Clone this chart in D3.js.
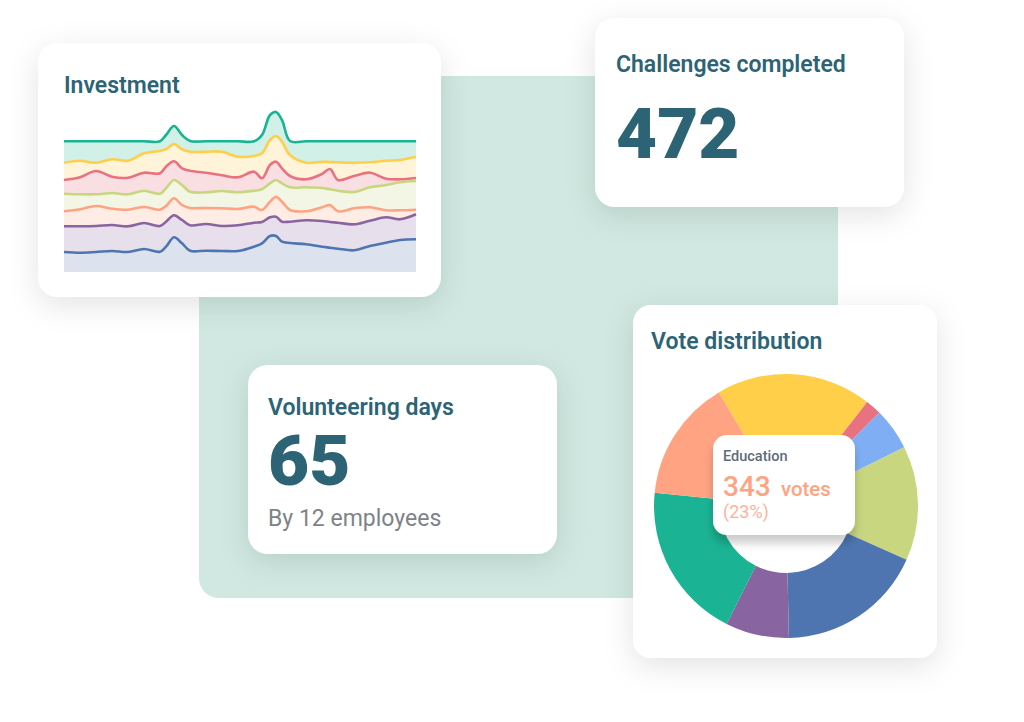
<!DOCTYPE html>
<html><head><meta charset="utf-8">
<script src="https://cdn.jsdelivr.net/npm/d3@7/dist/d3.min.js"></script>
<style>html,body{margin:0;padding:0;background:#fff}svg{display:block}text{font-family:Roboto,sans-serif}</style>
</head><body><svg id="c" width="1024" height="722"></svg>
<script>
const days=[0,16,32,48,64,80,96,102,110,118,126,142,158,174,190,198,206,212,218,226,242,258,266,274,290,306,322,336,352];
const tealLine=[130.7,130.7,130.7,130.7,130.7,130.7,130.7,137,146,137,131,130.7,130.7,130.7,130.7,137,157,160,152,131,130.7,130.7,130.7,130.7,130.7,130.7,130.7,130.7,130.7];
const yellowLine=[109.3,111.3,109.3,112.7,111.3,118.7,121,122.7,128,122.7,120.3,120.3,120.3,115.3,116,118.7,132,136,130.3,117,109.3,110.3,110,109.7,109.3,109.7,111.3,112,115.3];
const redLine=[92,94.7,101,95.3,94.3,99.3,98.7,105.3,110.7,103.7,101.3,99.3,96.7,94.7,100.3,93.7,107,110.3,103.7,96,92.7,98,103,92,96,99.3,93.3,92.7,94];
const greenLine=[78.3,77.7,77.7,79,77.7,81.3,78.3,83.7,92,87,80.3,79.7,81,79.7,81.3,82.7,88.7,92,88.7,84.7,84.7,84,82.7,81.3,80,84.7,87,89.7,91];
const orangeLine=[60.7,62.7,66,63.3,62.3,65,62.3,66,73.7,67,64,64,63.7,63,65.3,62,70.3,75.3,70.3,62,60.7,64.7,67,60.7,63.7,64.7,61.7,61.7,62.3];
const purpleLine=[45.7,45.7,46,47,45.7,49,46,50.3,56.7,52,46.7,48,46,46.7,49.3,50,54.7,55.3,50.3,50.3,51.7,51,50,49.3,47.7,51.3,54.7,52.7,57.7];
const blueLine=[20,19.3,20,21,20,23,20.3,25.3,34.7,28.7,21.3,21.3,21,21,25.3,28.7,36,36,30.3,29,27.7,25.3,24.3,23.3,21.7,26,29.3,32,32.7];
const streamSeries=[tealLine,yellowLine,redLine,greenLine,orangeLine,purpleLine,blueLine];
const streamColors=["#1AB394","#FFCF4A","#E8727F","#C8D67F","#FFA382","#8865A0","#4E75B0"];
const streamFills=["#D0F0E8","#FFF3D9","#FADFE2","#F3F6E5","#FFECE5","#E7E0EC","#DCE3EE"];
const voteCategories=["Environment","Health","Arts","Community","Science","Animals","Poverty","Education"];
const voteValues=[284,29,77,209,268,116,286,222];
const voteColors=["#FFCF4A","#E8727F","#7FAEF5","#C8D67F","#4E75B0","#8865A0","#1AB394","#FFA382"];

const svg=d3.select("#c");
const defs=svg.append("defs");
function shadow(id,dy,blur,op,col){
  const f=defs.append("filter").attr("id",id).attr("x","-30%").attr("y","-30%").attr("width","160%").attr("height","170%");
  f.append("feDropShadow").attr("dx",0).attr("dy",dy).attr("stdDeviation",blur).attr("flood-color",col||"#000").attr("flood-opacity",op);
}
shadow("card",8,15,0.11);
shadow("tip",8,4,0.2);
const ink="#2D6475";

// backdrop
svg.append("path").attr("fill","#D0E8E1").attr("d","M199,76H838V598H219A20,20 0 0 1 199,578Z");

function card(x,y,w,h,r){svg.append("rect").attr("x",x).attr("y",y).attr("width",w).attr("height",h).attr("rx",r).attr("fill","#fff").attr("filter","url(#card)");}
function label(x,y,t,size,weight,fill,op){return svg.append("text").attr("x",x).attr("y",y).attr("font-size",size).attr("font-weight",weight).attr("fill",fill).attr("fill-opacity",op==null?1:op).text(t);}

// Investment
card(38,43,403,254,20);
label(64,92.7,"Investment",23,600,ink);
const x=d3.scaleLinear().domain([0,352]).range([64,416]);
const y=d3.scaleLinear().domain([0,160]).range([272,112]);
const base=days.map(()=>0);
const curve=d3.curveCatmullRom.alpha(0.5);
const g=svg.append("g");
streamSeries.forEach((s,i)=>{
  const low=streamSeries[i+1]||base;
  const area=d3.area().x((d,j)=>x(days[j])).y0((d,j)=>y(low[j])).y1(d=>y(d)).curve(curve);
  g.append("path").attr("d",area(s)).attr("fill",streamFills[i]);
});
streamSeries.forEach((s,i)=>{
  const line=d3.line().x((d,j)=>x(days[j])).y(d=>y(d)).curve(curve);
  g.append("path").attr("d",line(s)).attr("fill","none").attr("stroke",streamColors[i]).attr("stroke-width",2.6);
});

// Challenges
card(595,18,309,189,20);
label(616,71.7,"Challenges completed",23,600,ink);
label(616,158,"472",71,900,ink);

// Volunteering
card(248,365,309,189,20);
label(268,414.7,"Volunteering days",23,600,ink);
label(268,485,"65",71,900,ink);
label(268,526,"By 12 employees",23,400,"#7E8389");

// Donut
card(633,305,304,353,18);
label(651,348.7,"Vote distribution",23,600,ink);
const pie=d3.pie().sort(null).startAngle(-30.6*Math.PI/180).endAngle(329.4*Math.PI/180);
const arc=d3.arc().innerRadius(67).outerRadius(132);
svg.append("g").attr("transform","translate(786,506)").selectAll("path").data(pie(voteValues)).join("path")
  .attr("d",arc).attr("fill",(d,i)=>voteColors[i]);

// Tooltip
svg.append("rect").attr("x",713).attr("y",435).attr("width",142).attr("height",100).attr("rx",14).attr("fill","#fff").attr("filter","url(#tip)");
label(723,461,"Education",14.5,500,"#5F6B7C");
label(723,496,"343",28,500,"#FFA382");
label(781,496,"votes",20.4,500,"#FFA382");
label(723,518,"(23%)",18,400,"#FFA382",0.85);
</script></body></html>
